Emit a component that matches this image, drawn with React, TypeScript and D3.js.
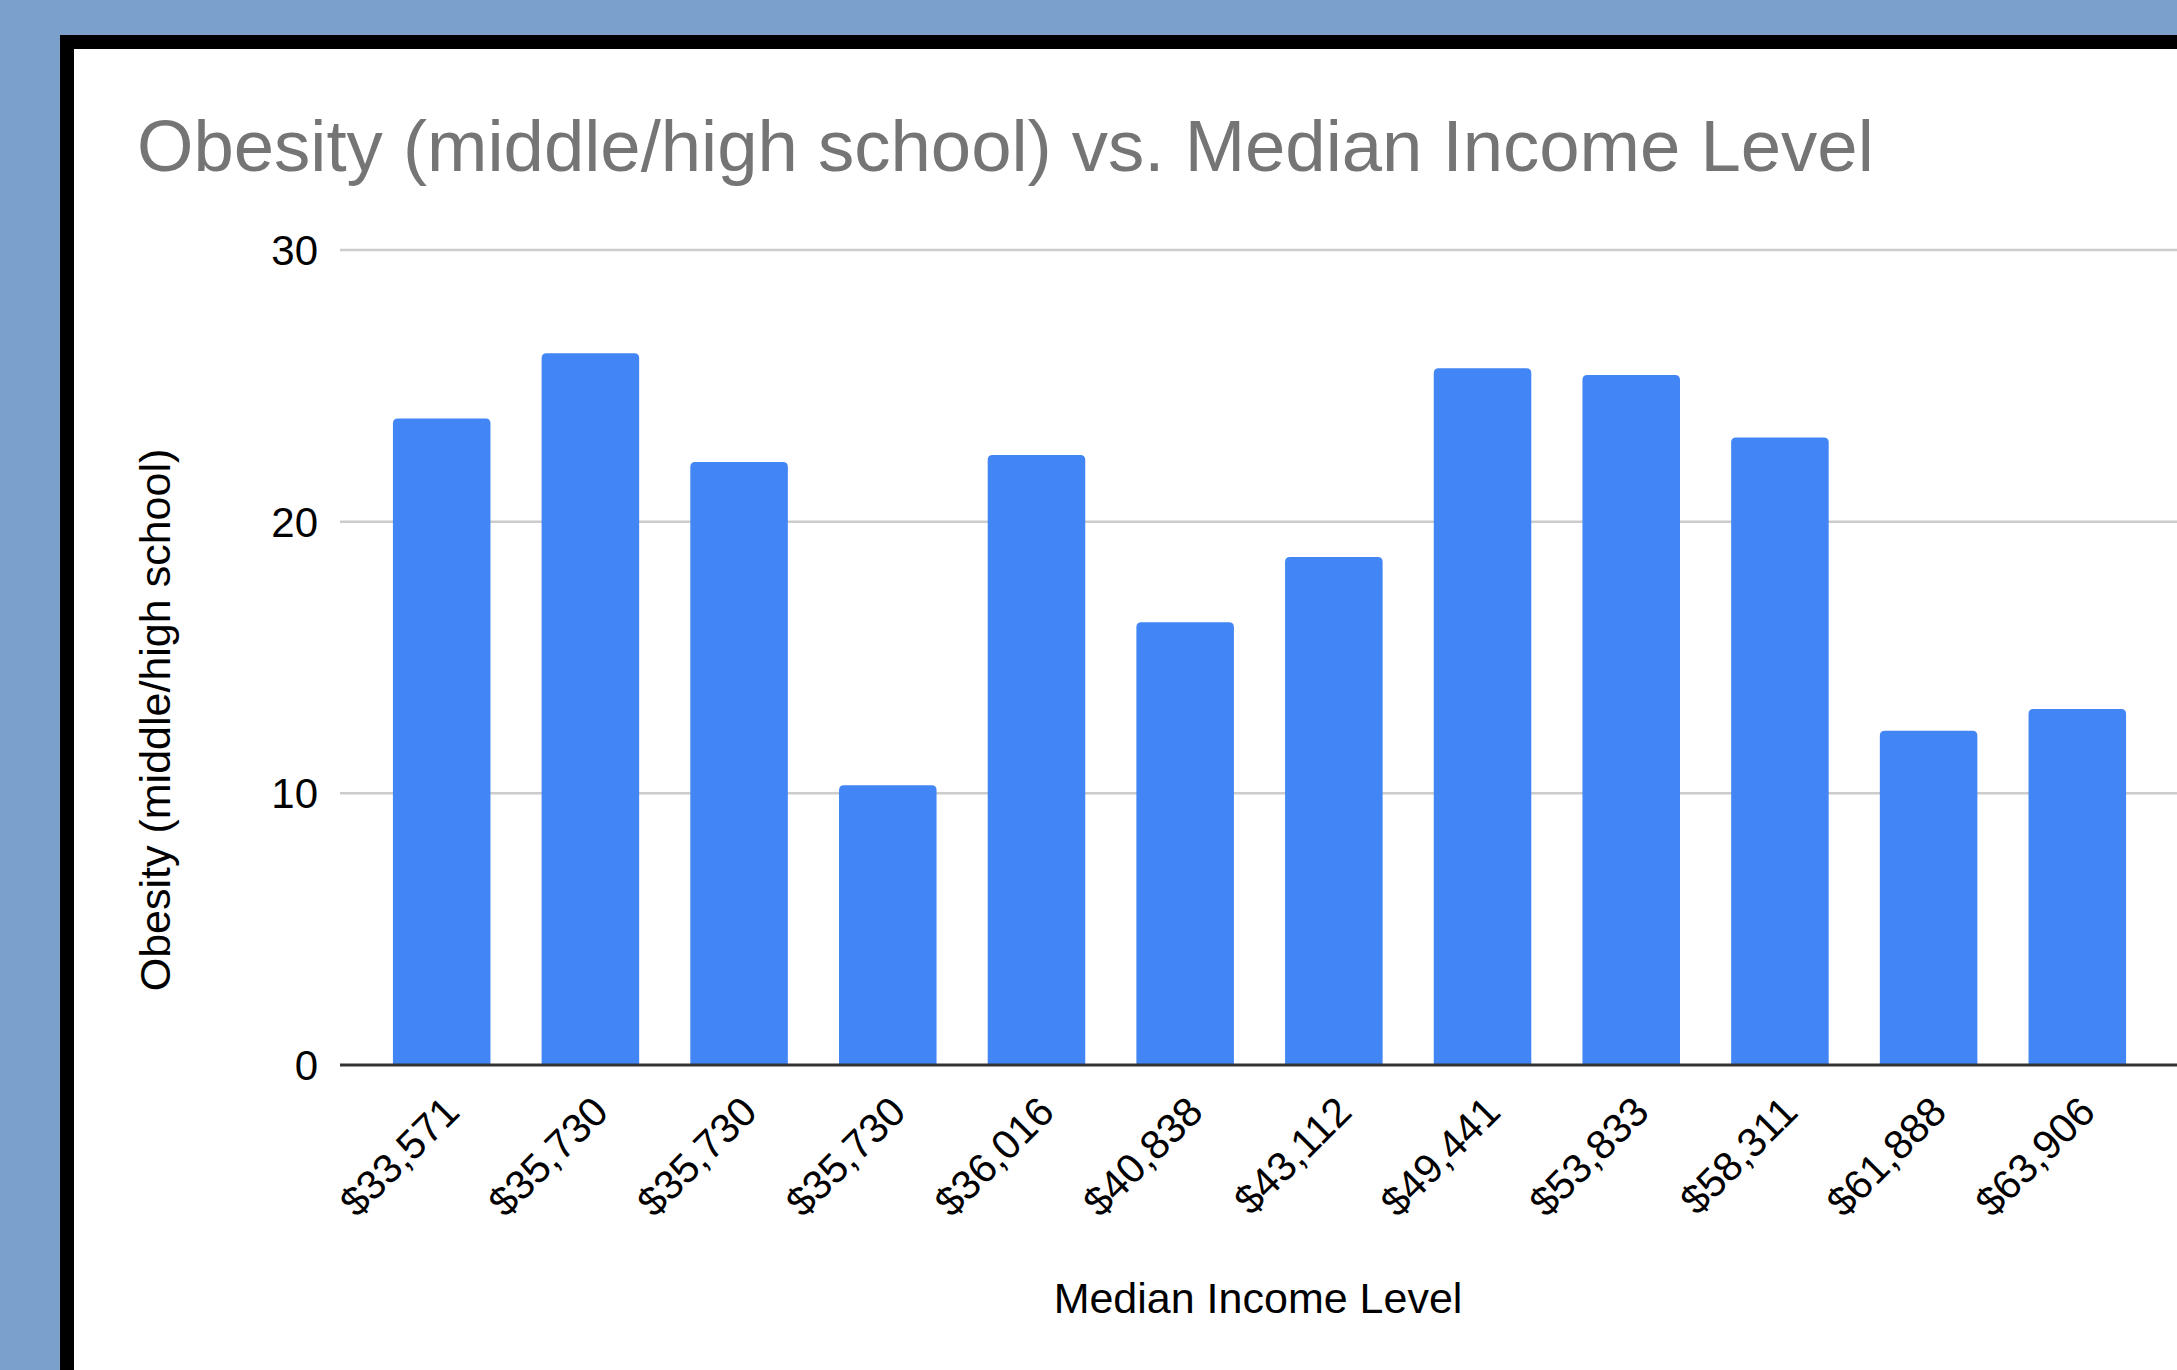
import { useEffect, useRef } from "react";
import * as d3 from "d3";

// values
const incomeLabels = [
  "$33,571",
  "$35,730",
  "$35,730",
  "$35,730",
  "$36,016",
  "$40,838",
  "$43,112",
  "$49,441",
  "$53,833",
  "$58,311",
  "$61,888",
  "$63,906",
];
const obesityValues = [23.8, 26.2, 22.2, 10.3, 22.45, 16.3, 18.7, 25.65, 25.4, 23.1, 12.3, 13.1];
const yTicks = [0, 10, 20, 30];

const W = 2177;
const H = 1370;
const FONT = "'Liberation Sans', Arial, Helvetica, sans-serif";

// bar with slightly rounded top corners
function barPath(x: number, y: number, w: number, h: number, r: number) {
  const rr = Math.min(r, w / 2, h);
  return (
    `M${x},${y + h}` +
    `V${y + rr}` +
    `Q${x},${y} ${x + rr},${y}` +
    `H${x + w - rr}` +
    `Q${x + w},${y} ${x + w},${y + rr}` +
    `V${y + h}Z`
  );
}

export default function App() {
  const svgRef = useRef<SVGSVGElement>(null);

  useEffect(() => {
    const svg = d3.select(svgRef.current!);
    svg.selectAll("*").remove();

    // page background + black frame
    svg.append("rect").attr("width", W).attr("height", H).attr("fill", "#7aa0cb");
    svg.append("rect").attr("x", 60).attr("y", 35).attr("width", W).attr("height", H).attr("fill", "#000");
    svg.append("rect").attr("x", 74).attr("y", 49).attr("width", W).attr("height", H).attr("fill", "#fff");

    const x = d3
      .scaleBand<number>()
      .domain(d3.range(incomeLabels.length))
      .range([340, 2179])
      .paddingInner(0.344)
      .paddingOuter(0.356);
    const y = d3.scaleLinear().domain([0, 30]).range([1065, 250]);

    // title
    svg
      .append("text")
      .attr("x", 137)
      .attr("y", 171)
      .attr("font-family", FONT)
      .attr("font-size", 72.5)
      .attr("fill", "#757575")
      .text("Obesity (middle/high school) vs. Median Income Level");

    // gridlines
    svg
      .append("g")
      .selectAll("line")
      .data(yTicks.filter((t) => t !== 0))
      .join("line")
      .attr("x1", 340)
      .attr("x2", W)
      .attr("y1", (d) => y(d))
      .attr("y2", (d) => y(d))
      .attr("stroke", "#cccccc")
      .attr("stroke-width", 2.5);

    // y tick labels
    svg
      .append("g")
      .selectAll("text")
      .data(yTicks)
      .join("text")
      .attr("x", 318)
      .attr("y", (d) => y(d) + 15)
      .attr("text-anchor", "end")
      .attr("font-family", FONT)
      .attr("font-size", 42)
      .attr("fill", "#000")
      .text((d) => String(d));

    // bars
    svg
      .append("g")
      .selectAll("path")
      .data(obesityValues)
      .join("path")
      .attr("d", (d, i) => barPath(x(i)!, y(d), x.bandwidth(), y(0) - y(d), 5))
      .attr("fill", "#4285f4");

    // baseline
    svg
      .append("line")
      .attr("x1", 340)
      .attr("x2", W)
      .attr("y1", y(0))
      .attr("y2", y(0))
      .attr("stroke", "#333333")
      .attr("stroke-width", 3);

    // rotated x labels
    svg
      .append("g")
      .selectAll("text")
      .data(incomeLabels)
      .join("text")
      .attr("transform", (_d, i) => `translate(${x(i)! + x.bandwidth() / 2 + 20},${y(0) + 49}) rotate(-45)`)
      .attr("text-anchor", "end")
      .attr("font-family", FONT)
      .attr("font-size", 41)
      .attr("fill", "#000")
      .text((d) => d);

    // axis titles
    svg
      .append("text")
      .attr("x", 1258)
      .attr("y", 1313)
      .attr("text-anchor", "middle")
      .attr("font-family", FONT)
      .attr("font-size", 43)
      .attr("fill", "#000")
      .text("Median Income Level");

    svg
      .append("text")
      .attr("transform", "translate(170,720) rotate(-90)")
      .attr("text-anchor", "middle")
      .attr("font-family", FONT)
      .attr("font-size", 43)
      .attr("fill", "#000")
      .text("Obesity (middle/high school)");
  }, []);

  return (
    <div style={{ position: "absolute", left: 0, top: 0 }}>
      <svg ref={svgRef} width={W} height={H} style={{ display: "block" }} />
    </div>
  );
}
